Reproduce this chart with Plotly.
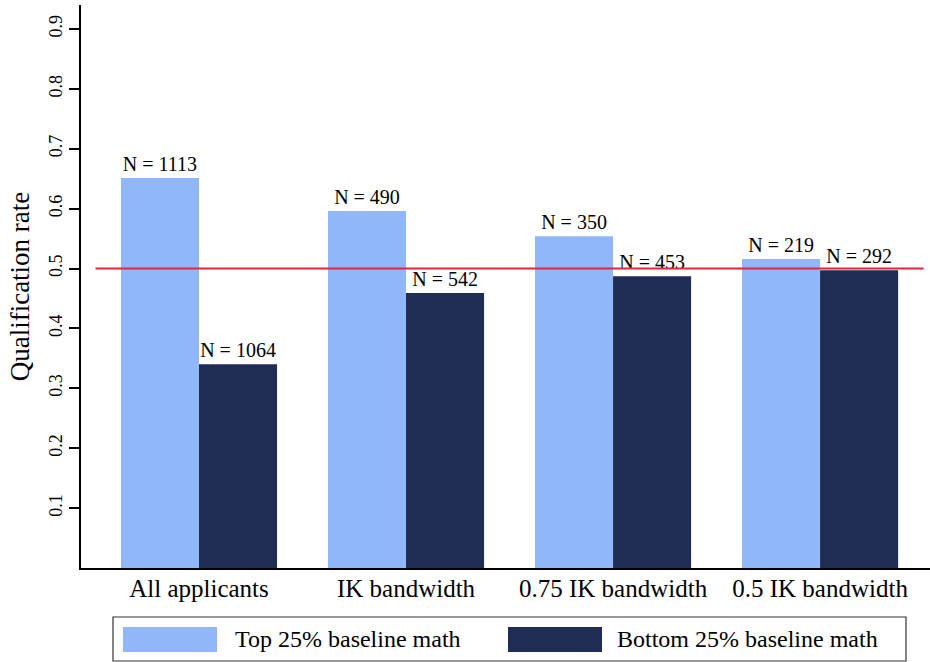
import plotly.graph_objects as go

categories = ["All applicants", "IK bandwidth", "0.75 IK bandwidth", "0.5 IK bandwidth"]
top_rate = [0.651, 0.596, 0.554, 0.516]
bottom_rate = [0.340, 0.459, 0.487, 0.497]
top_n = [1113, 490, 350, 219]
bottom_n = [1064, 542, 453, 292]
series_names = ["Top 25% baseline math", "Bottom 25% baseline math"]
reference_rate = 0.5
y_ticks = [0.1, 0.2, 0.3, 0.4, 0.5, 0.6, 0.7, 0.8, 0.9]

LIGHT = "#8FB7FA"
DARK = "#1F2D55"
RED = "#E8233D"
FONT = "Liberation Serif"

x_idx = list(range(len(categories)))

fig = go.Figure()
fig.add_trace(go.Bar(
    x=x_idx, y=top_rate, name=series_names[0], marker=dict(color=LIGHT, line=dict(width=0)),
    text=[f"N = {n}" for n in top_n], textposition="outside", constraintext="none",
    textfont=dict(family=FONT, size=20, color="black"), cliponaxis=False, showlegend=False,
))
fig.add_trace(go.Bar(
    x=x_idx, y=bottom_rate, name=series_names[1], marker=dict(color=DARK, line=dict(width=0)),
    text=[f"N = {n}" for n in bottom_n], textposition="outside", constraintext="none",
    textfont=dict(family=FONT, size=20, color="black"), cliponaxis=False, showlegend=False,
))

fig.add_shape(type="line", xref="x", yref="y", x0=-0.5, x1=len(categories) - 0.5,
              y0=reference_rate, y1=reference_rate, line=dict(color=RED, width=2))

# Legend box drawn in paper coordinates
L, R, T, B = 81, 930, 5, 568
W, H = R - L, B - T
def px(x):
    return (x - L) / W
def py(y):
    return (B - y) / H

fig.add_shape(type="rect", xref="paper", yref="paper", x0=px(113), x1=px(906), y0=py(661), y1=py(617),
              line=dict(color="#333333", width=1.2), fillcolor="white")
fig.add_shape(type="rect", xref="paper", yref="paper", x0=px(123), x1=px(217), y0=py(652), y1=py(627),
              line=dict(width=0), fillcolor=LIGHT)
fig.add_shape(type="rect", xref="paper", yref="paper", x0=px(508), x1=px(602), y0=py(652), y1=py(627),
              line=dict(width=0), fillcolor=DARK)
fig.add_annotation(xref="paper", yref="paper", x=px(233), y=py(639), text=series_names[0],
                   showarrow=False, xanchor="left", yanchor="middle",
                   font=dict(family=FONT, size=24, color="black"))
fig.add_annotation(xref="paper", yref="paper", x=px(615), y=py(639), text=series_names[1],
                   showarrow=False, xanchor="left", yanchor="middle",
                   font=dict(family=FONT, size=24, color="black"))

fig.update_layout(
    width=930, height=662,
    margin=dict(l=L, r=930 - R, t=T, b=662 - B),
    paper_bgcolor="white", plot_bgcolor="white",
    barmode="group", bargap=0.246, bargroupgap=0,
    font=dict(family=FONT, color="black"),
    xaxis=dict(
        range=[-0.57, 3.531], tickmode="array", tickvals=x_idx, ticktext=categories,
        showline=True, linecolor="black", linewidth=1.5, ticks="", showgrid=False, zeroline=False,
        tickfont=dict(family=FONT, size=25, color="black"), ticklabelstandoff=-3,
    ),
    yaxis=dict(
        range=[0, 0.94], tickmode="array", tickvals=y_ticks, ticktext=[f"{v:.1f}" for v in y_ticks],
        tickangle=-90, ticks="outside", ticklen=10, tickwidth=1.5, tickcolor="black",
        showline=True, linecolor="black", linewidth=1.5, showgrid=False, zeroline=False,
        tickfont=dict(family=FONT, size=18, color="black"),
        title=dict(text="Qualification rate", font=dict(family=FONT, size=27, color="black"), standoff=9),
    ),
)

fig.write_html("out.html", config={"displayModeBar": False},
               post_script="document.body.style.margin='0px';document.body.style.overflow='hidden';")
